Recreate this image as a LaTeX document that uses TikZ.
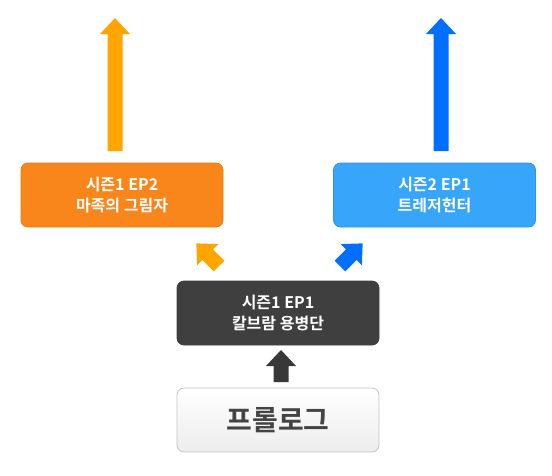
\documentclass[tikz,border=0pt]{standalone}
\usepackage{fontspec}
\newfontfamily\kr{Noto Sans CJK KR}[BoldFont={Noto Sans CJK KR Bold}]
\definecolor{orbox}{HTML}{F8861A}
\definecolor{orboxd}{HTML}{E57A12}
\definecolor{orarr}{HTML}{FFA500}
\definecolor{blbox}{HTML}{36A5FA}
\definecolor{blboxd}{HTML}{2A95EA}
\definecolor{blarr}{HTML}{006FFF}
\definecolor{dkbox}{HTML}{3F3F3F}
\definecolor{dkarr}{HTML}{383838}
\definecolor{ltbox}{HTML}{F4F4F4}
\definecolor{ltboxd}{HTML}{C4C4C4}
\definecolor{prtext}{HTML}{444444}
\begin{document}
\begin{tikzpicture}[x=1pt,y=-1pt,
  box/.style={rounded corners=7pt, minimum width=202pt, minimum height=64pt, line width=0.8pt, align=center, font=\kr\bfseries\fontsize{16}{21}\selectfont, text=white},
  blockarrow/.pic={\fill (-7.5,0) -- (-7.5,-#1+16) -- (-15,-#1+16) -- (0,-#1) -- (15,-#1+16) -- (7.5,-#1+16) -- (7.5,0) -- cycle;}
]
\useasboundingbox (0,0) rectangle (552,475);
\node[box, fill=orbox, draw=orboxd] (ep2) at (122,195) {시즌1 EP2\\마족의 그림자};
\node[box, fill=blbox, draw=blboxd] (s2) at (434.5,195) {시즌2 EP1\\트레저헌터};
\node[box, fill=dkbox, draw=dkbox] (ep1) at (278,313) {시즌1 EP1\\칼브람 용병단};
\node[box, fill=ltbox, draw=ltboxd, top color=white, bottom color=ltbox!90!black!30!ltbox, text=prtext, font=\kr\bfseries\fontsize{28}{30}\selectfont] (pro) at (278,420) {프롤로그};
% vertical arrows from top boxes
\coordinate (oa) at (115,151);
\coordinate (ba) at (441,151);
\fill[orarr] (oa) pic {blockarrow=133};
\fill[blarr] (ba) pic {blockarrow=133};
% diagonal arrows
\coordinate (od) at (219,266);
\coordinate (bd) at (340,266);
\fill[orarr] (od) pic[rotate=45] {blockarrow=32};
\fill[blarr] (bd) pic[rotate=-45] {blockarrow=32};
% prologue to ep1 arrow
\coordinate (da) at (281,382);
\fill[dkarr] (da) pic {blockarrow=32};
\end{tikzpicture}
\end{document}
